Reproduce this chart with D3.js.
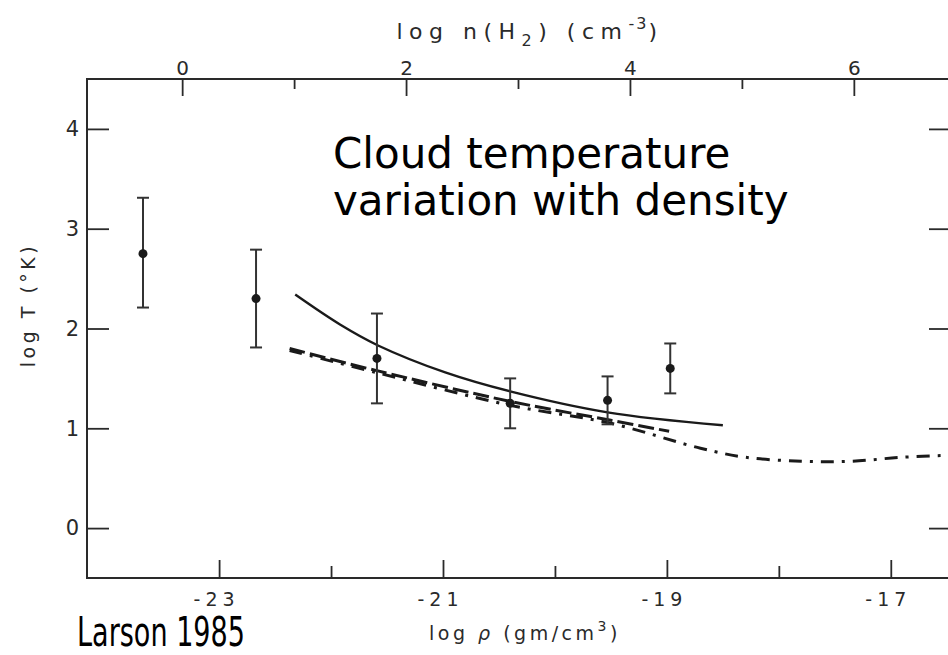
<!DOCTYPE html>
<html>
<head>
<meta charset="utf-8">
<script src="https://cdn.jsdelivr.net/npm/d3@7"></script>
<style>
  body { margin: 0; background: #fff; }
  svg { display: block; }
</style>
</head>
<body>
<svg class="larson-chart"></svg>
<script>
// observed clouds: log rho, log T and error bar ends
var rhoObs = [-23.68, -22.67, -21.59, -20.40, -19.53, -18.97];
var tObs   = [2.75, 2.30, 1.70, 1.25, 1.28, 1.60];
var tHigh  = [3.31, 2.79, 2.15, 1.50, 1.52, 1.85];
var tLow   = [2.21, 1.81, 1.25, 1.00, 1.04, 1.35];

// model curves
var solidRho = [-22.32, -21.92, -21.58, -20.98, -20.40, -19.53, -18.5];
var solidT   = [2.34, 2.04, 1.83, 1.56, 1.37, 1.16, 1.03];

var dashRho = [-22.37, -21.6, -20.4, -19.5, -18.98];
var dashT   = [1.80, 1.58, 1.27, 1.08, 0.97];

var dotRho = [-22.37, -21.6, -20.4, -19.5, -18.7, -18.3, -17.8, -17.35, -16.9, -16.45];
var dotT   = [1.78, 1.56, 1.23, 1.05, 0.80, 0.71, 0.67, 0.67, 0.71, 0.73];

// tick values
var rhoMajor = [-23, -21, -19, -17], rhoMinor = [-22, -20, -18];
var nMajor = [0, 2, 4, 6], nMinor = [1, 3, 5];
var tTicks = [0, 1, 2, 3, 4];
var nOffset = 23.33; // log n(H2) = log rho + 23.33

var svgWidth = 948, svgHeight = 655;
var svg = d3.select('svg.larson-chart')
    .attr("width", svgWidth)
    .attr("height", svgHeight)
    .style("font-family", "'DejaVu Sans', sans-serif");

// note: "top" is taken by window.top, so plot edges get other names
var plotL = 87, plotR = 949, plotT = 79, plotB = 578;

var xScale = d3.scaleLinear().domain([-24.18, -16.48]).range([plotL, plotR]),
    nScale = d3.scaleLinear().domain([-24.18 + nOffset, -16.48 + nOffset]).range([plotL, plotR]),
    yScale = d3.scaleLinear().domain([-0.5, 4.5]).range([plotB, plotT]);

var ink = "#1a1a1a", axisInk = "#2a2a2a";

// frame
svg.append("rect")
    .attr("x", plotL).attr("y", plotT)
    .attr("width", plotR - plotL).attr("height", plotB - plotT)
    .style("fill", "none").style("stroke", axisInk).style("stroke-width", 2);

function styleAxis(g) {
    g.select(".domain").remove();
    g.selectAll(".tick line").style("stroke", axisInk).style("stroke-width", 1.8);
    g.selectAll(".tick text").style("fill", axisInk).style("font-family", "'DejaVu Sans', sans-serif");
}

// bottom axis
svg.append("g")
    .attr("transform", "translate(0," + plotB + ")")
    .call(d3.axisBottom(xScale).tickValues(rhoMajor).tickSize(-18).tickPadding(15)
        .tickFormat(function (d) { return "-" + Math.abs(d); }))
    .call(styleAxis)
    .selectAll(".tick text")
    .attr("dx", -3)
    .style("font-size", "19px")
    .style("letter-spacing", "5px");
svg.append("g")
    .attr("transform", "translate(0," + plotB + ")")
    .call(d3.axisBottom(xScale).tickValues(rhoMinor).tickSize(-12).tickFormat(""))
    .call(styleAxis);

// top axis, log n(H2)
svg.append("g")
    .attr("transform", "translate(0," + plotT + ")")
    .call(d3.axisTop(nScale).tickValues(nMajor).tickSize(-17).tickPadding(4))
    .call(styleAxis)
    .selectAll(".tick text")
    .style("font-size", "20px");
svg.append("g")
    .attr("transform", "translate(0," + plotT + ")")
    .call(d3.axisTop(nScale).tickValues(nMinor).tickSize(-10).tickFormat(""))
    .call(styleAxis);

// left axis
svg.append("g")
    .attr("transform", "translate(" + plotL + ",0)")
    .call(d3.axisLeft(yScale).tickValues(tTicks).tickSize(-22).tickPadding(8).tickFormat(d3.format("d")))
    .call(styleAxis)
    .selectAll(".tick text")
    .style("font-size", "21px");

// right axis, ticks only
svg.append("g")
    .attr("transform", "translate(" + plotR + ",0)")
    .call(d3.axisRight(yScale).tickValues(tTicks).tickSize(-20).tickFormat(""))
    .call(styleAxis);

// axis titles
var topTitle = svg.append("text")
    .attr("x", 530).attr("y", 39)
    .attr("text-anchor", "middle")
    .style("font-size", "22px")
    .style("letter-spacing", "6.5px")
    .style("fill", axisInk);
topTitle.append("tspan").text("log n(H");
topTitle.append("tspan").attr("dy", 7).style("font-size", "16px").text("2");
topTitle.append("tspan").attr("dy", -7).text(") (cm");
topTitle.append("tspan").attr("dy", -10).style("font-size", "16px").style("letter-spacing", "2px").text("-3");
topTitle.append("tspan").attr("dy", 10).text(")");

var botTitle = svg.append("text")
    .attr("x", 525).attr("y", 640)
    .attr("text-anchor", "middle")
    .style("font-size", "19px")
    .style("letter-spacing", "3.5px")
    .style("fill", axisInk);
botTitle.append("tspan").text("log ");
botTitle.append("tspan").style("font-style", "italic").text("ρ");
botTitle.append("tspan").text(" (gm/cm");
botTitle.append("tspan").attr("dy", -9).style("font-size", "14px").text("3");
botTitle.append("tspan").attr("dy", 9).text(")");

svg.append("text")
    .attr("text-anchor", "middle")
    .attr("transform", "translate(35,305)rotate(-90)")
    .style("font-size", "19px")
    .style("letter-spacing", "3.5px")
    .style("fill", axisInk)
    .text("log T (°K)");

// model curves
function lineOf(xs, ys) {
    return d3.line()
        .x(function (d, i) { return xScale(xs[i]); })
        .y(function (d, i) { return yScale(ys[i]); })
        .curve(d3.curveCatmullRom)(xs);
}

svg.append("path")
    .attr("d", lineOf(solidRho, solidT))
    .style("fill", "none").style("stroke", ink).style("stroke-width", 2.4);

svg.append("path")
    .attr("d", lineOf(dashRho, dashT))
    .style("fill", "none").style("stroke", ink).style("stroke-width", 3)
    .style("stroke-dasharray", "16,5");

svg.append("path")
    .attr("d", lineOf(dotRho, dotT))
    .style("fill", "none").style("stroke", ink).style("stroke-width", 3)
    .style("stroke-dasharray", "13,8,3,8");

// error bars and points
var obs = rhoObs.map(function (r, i) { return { r: r, t: tObs[i], hi: tHigh[i], lo: tLow[i] }; });

var bars = svg.append("g").selectAll("g.err")
    .data(obs)
    .enter()
    .append("g")
    .style("stroke", "#333")
    .style("stroke-width", 2);

bars.append("line")
    .attr("x1", function (d) { return xScale(d.r); })
    .attr("x2", function (d) { return xScale(d.r); })
    .attr("y1", function (d) { return yScale(d.hi); })
    .attr("y2", function (d) { return yScale(d.lo); });
bars.append("line")
    .attr("x1", function (d) { return xScale(d.r) - 6; })
    .attr("x2", function (d) { return xScale(d.r) + 6; })
    .attr("y1", function (d) { return yScale(d.hi); })
    .attr("y2", function (d) { return yScale(d.hi); });
bars.append("line")
    .attr("x1", function (d) { return xScale(d.r) - 6; })
    .attr("x2", function (d) { return xScale(d.r) + 6; })
    .attr("y1", function (d) { return yScale(d.lo); })
    .attr("y2", function (d) { return yScale(d.lo); });

svg.append("g").selectAll("circle")
    .data(obs)
    .enter()
    .append("circle")
    .attr("cx", function (d) { return xScale(d.r); })
    .attr("cy", function (d) { return yScale(d.t); })
    .attr("r", 4.5)
    .style("fill", ink);

// annotations
var note = svg.append("text")
    .attr("x", 333).attr("y", 168)
    .style("font-size", "42px")
    .style("fill", "#000");
note.append("tspan").attr("x", 333).text("Cloud temperature");
note.append("tspan").attr("x", 333).attr("dy", 47).text("variation with density");

svg.append("text")
    .attr("x", 77).attr("y", 646)
    .attr("textLength", 168)
    .attr("lengthAdjust", "spacingAndGlyphs")
    .style("font-size", "40px")
    .style("fill", "#000")
    .text("Larson 1985");
</script>
</body>
</html>
